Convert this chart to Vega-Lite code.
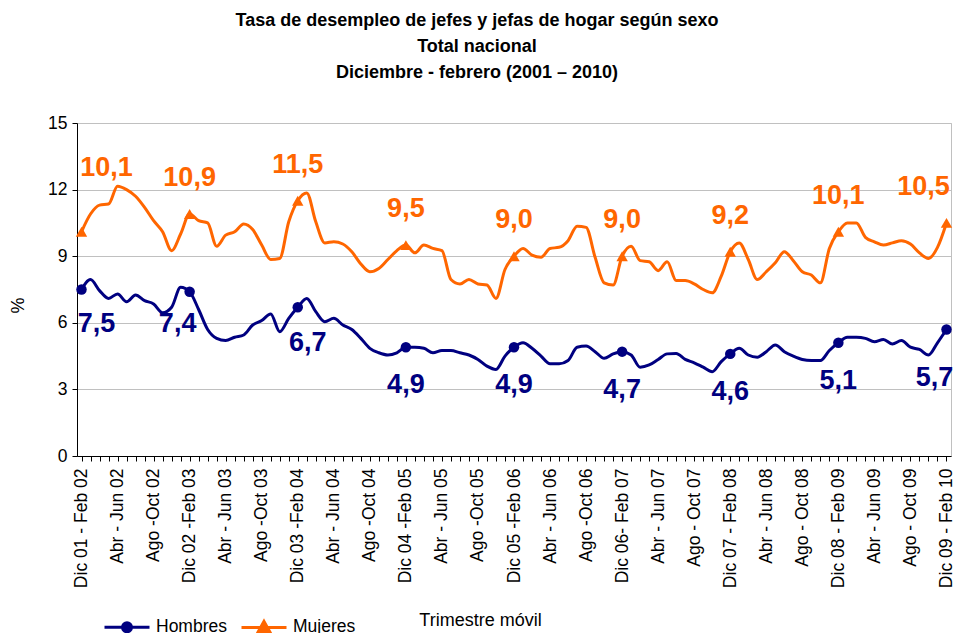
{
  "$schema": "https://vega.github.io/schema/vega-lite/v6.json",
  "width": 874,
  "height": 333,
  "autosize": {"type": "none"},
  "padding": {"left": 77, "top": 123, "right": 3, "bottom": 177},
  "background": "white",
  "config": {"font": "Liberation Sans", "view": {"stroke": "#C0C0C0"}},
  "title": {
    "text": ["Tasa de desempleo de jefes y jefas de hogar según sexo", "Total nacional", "Diciembre - febrero (2001 – 2010)"],
    "fontSize": 18, "fontWeight": "bold", "font": "Liberation Sans", "color": "black",
    "anchor": "middle", "frame": "group", "dx": -37, "offset": 14, "baseline": "bottom", "lineHeight": 26
  },
  "data": {"values": [
    {"periodo":"Dic 01 - Feb 02","Hombres":7.5,"Mujeres":10.1},
    {"periodo":"Ene - Mar 02","Hombres":7.95,"Mujeres":10.9},
    {"periodo":"Feb - Abr 02","Hombres":7.45,"Mujeres":11.3},
    {"periodo":"Mar - May 02","Hombres":7.1,"Mujeres":11.35},
    {"periodo":"Abr - Jun 02","Hombres":7.3,"Mujeres":12.15},
    {"periodo":"May - Jul 02","Hombres":6.95,"Mujeres":12.0},
    {"periodo":"Jun - Ago 02","Hombres":7.25,"Mujeres":11.7},
    {"periodo":"Jul - Sep 02","Hombres":7.0,"Mujeres":11.2},
    {"periodo":"Ago -Oct 02","Hombres":6.85,"Mujeres":10.6},
    {"periodo":"Sep - Nov 02","Hombres":6.45,"Mujeres":10.1},
    {"periodo":"Oct - Dic 02","Hombres":6.7,"Mujeres":9.25},
    {"periodo":"Nov 02 - Ene 03","Hombres":7.6,"Mujeres":10.0},
    {"periodo":"Dic 02 -Feb 03","Hombres":7.4,"Mujeres":10.9},
    {"periodo":"Ene - Mar 03","Hombres":6.6,"Mujeres":10.6},
    {"periodo":"Feb - Abr 03","Hombres":5.7,"Mujeres":10.5},
    {"periodo":"Mar - May 03","Hombres":5.3,"Mujeres":9.45},
    {"periodo":"Abr - Jun 03","Hombres":5.2,"Mujeres":9.95},
    {"periodo":"May - Jul 03","Hombres":5.35,"Mujeres":10.1},
    {"periodo":"Jun - Ago 03","Hombres":5.45,"Mujeres":10.45},
    {"periodo":"Jul - Sep 03","Hombres":5.9,"Mujeres":10.2},
    {"periodo":"Ago -Oct 03","Hombres":6.1,"Mujeres":9.5},
    {"periodo":"Sep - Nov 03","Hombres":6.4,"Mujeres":8.85},
    {"periodo":"Oct - Dic 03","Hombres":5.6,"Mujeres":8.9},
    {"periodo":"Nov 03 - Ene 04","Hombres":6.2,"Mujeres":10.55},
    {"periodo":"Dic 03 -Feb 04","Hombres":6.7,"Mujeres":11.5},
    {"periodo":"Ene - Mar 04","Hombres":7.1,"Mujeres":11.85},
    {"periodo":"Feb - Abr 04","Hombres":6.5,"Mujeres":10.55},
    {"periodo":"Mar - May 04","Hombres":6.05,"Mujeres":9.6},
    {"periodo":"Abr - Jun 04","Hombres":6.2,"Mujeres":9.65},
    {"periodo":"May - Jul 04","Hombres":5.9,"Mujeres":9.55},
    {"periodo":"Jun - Ago 04","Hombres":5.7,"Mujeres":9.2},
    {"periodo":"Jul - Sep 04","Hombres":5.3,"Mujeres":8.65},
    {"periodo":"Ago -Oct 04","Hombres":4.85,"Mujeres":8.3},
    {"periodo":"Sep - Nov 04","Hombres":4.65,"Mujeres":8.45},
    {"periodo":"Oct - Dic 04","Hombres":4.55,"Mujeres":8.85},
    {"periodo":"Nov 04 - Ene 05","Hombres":4.65,"Mujeres":9.25},
    {"periodo":"Dic 04 -Feb 05","Hombres":4.9,"Mujeres":9.5},
    {"periodo":"Ene - Mar 05","Hombres":4.9,"Mujeres":9.15},
    {"periodo":"Feb - Abr 05","Hombres":4.85,"Mujeres":9.5},
    {"periodo":"Mar - May 05","Hombres":4.65,"Mujeres":9.35},
    {"periodo":"Abr - Jun 05","Hombres":4.75,"Mujeres":9.25},
    {"periodo":"May - Jul 05","Hombres":4.75,"Mujeres":7.95},
    {"periodo":"Jun - Ago 05","Hombres":4.65,"Mujeres":7.75},
    {"periodo":"Jul - Sep 05","Hombres":4.55,"Mujeres":7.95},
    {"periodo":"Ago -Oct 05","Hombres":4.35,"Mujeres":7.75},
    {"periodo":"Sep - Nov 05","Hombres":4.05,"Mujeres":7.7},
    {"periodo":"Oct - Dic 05","Hombres":3.9,"Mujeres":7.1},
    {"periodo":"Nov 05 - Ene 06","Hombres":4.5,"Mujeres":8.4},
    {"periodo":"Dic 05 -Feb 06","Hombres":4.9,"Mujeres":9.0},
    {"periodo":"Ene - Mar 06","Hombres":5.1,"Mujeres":9.35},
    {"periodo":"Feb - Abr 06","Hombres":4.85,"Mujeres":9.05},
    {"periodo":"Mar - May 06","Hombres":4.5,"Mujeres":8.95},
    {"periodo":"Abr - Jun 06","Hombres":4.15,"Mujeres":9.35},
    {"periodo":"May - Jul 06","Hombres":4.15,"Mujeres":9.4},
    {"periodo":"Jun - Ago 06","Hombres":4.3,"Mujeres":9.7},
    {"periodo":"Jul - Sep 06","Hombres":4.9,"Mujeres":10.35},
    {"periodo":"Ago -Oct 06","Hombres":4.95,"Mujeres":10.3},
    {"periodo":"Sep - Nov 06","Hombres":4.7,"Mujeres":8.95},
    {"periodo":"Oct - Dic 06","Hombres":4.4,"Mujeres":7.8},
    {"periodo":"Nov 06 - Ene 07","Hombres":4.6,"Mujeres":7.7},
    {"periodo":"Dic  06- Feb 07","Hombres":4.7,"Mujeres":9.0},
    {"periodo":"Ene - Mar 07","Hombres":4.55,"Mujeres":9.45},
    {"periodo":"Feb - Abr 07","Hombres":4.0,"Mujeres":8.8},
    {"periodo":"Mar - May 07","Hombres":4.1,"Mujeres":8.75},
    {"periodo":"Abr - Jun 07","Hombres":4.35,"Mujeres":8.35},
    {"periodo":"May - Jul 07","Hombres":4.6,"Mujeres":8.75},
    {"periodo":"Jun - Ago 07","Hombres":4.62,"Mujeres":7.9},
    {"periodo":"Jul - Sep 07","Hombres":4.35,"Mujeres":7.9},
    {"periodo":"Ago - Oct 07","Hombres":4.2,"Mujeres":7.75},
    {"periodo":"Sep - Nov 07","Hombres":4.0,"Mujeres":7.5},
    {"periodo":"Oct - Dic 07","Hombres":3.8,"Mujeres":7.35},
    {"periodo":"Nov 07 - Ene 08","Hombres":4.25,"Mujeres":8.1},
    {"periodo":"Dic 07 - Feb 08","Hombres":4.6,"Mujeres":9.2},
    {"periodo":"Ene - Mar 08","Hombres":4.85,"Mujeres":9.6},
    {"periodo":"Feb - Abr 08","Hombres":4.55,"Mujeres":8.85},
    {"periodo":"Mar - May 08","Hombres":4.45,"Mujeres":7.95},
    {"periodo":"Abr - Jun 08","Hombres":4.7,"Mujeres":8.3},
    {"periodo":"May - Jul 08","Hombres":5.0,"Mujeres":8.7},
    {"periodo":"Jun - Ago 08","Hombres":4.7,"Mujeres":9.2},
    {"periodo":"Jul - Sep 08","Hombres":4.5,"Mujeres":8.8},
    {"periodo":"Ago - Oct 08","Hombres":4.35,"Mujeres":8.3},
    {"periodo":"Sep - Nov 08","Hombres":4.3,"Mujeres":8.15},
    {"periodo":"Oct - Dic 08","Hombres":4.3,"Mujeres":7.8},
    {"periodo":"Nov 08 - Ene 09","Hombres":4.75,"Mujeres":9.35},
    {"periodo":"Dic 08 - Feb 09","Hombres":5.1,"Mujeres":10.1},
    {"periodo":"Ene - Mar 09","Hombres":5.35,"Mujeres":10.5},
    {"periodo":"Feb - Abr 09","Hombres":5.35,"Mujeres":10.5},
    {"periodo":"Mar - May 09","Hombres":5.3,"Mujeres":9.85},
    {"periodo":"Abr - Jun 09","Hombres":5.15,"Mujeres":9.65},
    {"periodo":"May - Jul 09","Hombres":5.25,"Mujeres":9.5},
    {"periodo":"Jun - Ago 09","Hombres":5.05,"Mujeres":9.6},
    {"periodo":"Jul - Sep 09","Hombres":5.2,"Mujeres":9.7},
    {"periodo":"Ago - Oct 09","Hombres":4.9,"Mujeres":9.55},
    {"periodo":"Sep - Nov 09","Hombres":4.8,"Mujeres":9.15},
    {"periodo":"Oct - Dic 09","Hombres":4.55,"Mujeres":8.9},
    {"periodo":"Nov 09 - Ene 10","Hombres":5.1,"Mujeres":9.4},
    {"periodo":"Dic 09 - Feb 10","Hombres":5.7,"Mujeres":10.5}
  ]},
  "transform": [
    {"fold": ["Hombres", "Mujeres"], "as": ["sexo", "tasa"]},
    {"calculate": "replace(format(datum.tasa, '.1f'), '.', ',')", "as": "etiqueta"}
  ],
  "encoding": {
    "x": {
      "field": "periodo", "type": "ordinal", "sort": null,
      "scale": {"type": "point", "padding": 0.5},
      "axis": {
        "title": "Trimestre móvil", "labelAngle": 270,
        "labelExpr": "indexof(['Dic','Abr','Ago'], slice(datum.value, 0, 3)) >= 0 ? datum.value : ''",
        "labelOverlap": false, "labelFontSize": 17.5, "labelColor": "black", "labelFont": "Liberation Sans",
        "labelPadding": 7, "tickSize": 5, "tickColor": "black", "domainColor": "black", "grid": false,
        "titleFontSize": 18, "titleFontWeight": "normal", "titleColor": "black", "titleFont": "Liberation Sans",
        "titleX": 403, "titleY": 155, "titleAlign": "center", "titleBaseline": "top"
      }
    },
    "y": {
      "field": "tasa", "type": "quantitative",
      "scale": {"domain": [0, 15], "nice": false},
      "axis": {
        "values": [0, 3, 6, 9, 12, 15], "title": "%", "grid": true, "gridColor": "#C0C0C0",
        "labelFontSize": 17.5, "labelColor": "black", "labelFont": "Liberation Sans", "labelPadding": 5,
        "tickSize": 5, "tickColor": "black", "domainColor": "black",
        "titleFontSize": 18, "titleFontWeight": "normal", "titleColor": "black", "titleFont": "Liberation Sans",
        "titleX": -59, "titleY": 182, "titleAlign": "center", "titleBaseline": "middle", "titleAngle": 270
      }
    }
  },
  "layer": [
    {
      "mark": {"type": "line", "interpolate": "monotone", "strokeWidth": 3},
      "encoding": {
        "color": {
          "field": "sexo", "type": "nominal",
          "scale": {"domain": ["Hombres", "Mujeres"], "range": ["#000080", "#FF6600"]},
          "legend": {
            "orient": "none", "legendX": 26, "legendY": 480, "direction": "horizontal", "title": null,
            "labelFontSize": 17.5, "labelColor": "black", "labelFont": "Liberation Sans",
            "symbolSize": 2025, "symbolStrokeWidth": 3, "labelOffset": 5, "columnPadding": 8, "padding": 0,
            "encode": {
              "symbols": {
                "update": {
                  "shape": {"signal": "datum.value === 'Hombres' ? 'M-1,0L1,0M0.2,0A0.2,0.2,0,1,1,-0.2,0A0.2,0.2,0,1,1,0.2,0Z' : 'M-1,0L1,0M0,-0.27L0.25,0.18L-0.25,0.18Z'"},
                  "fill": {"signal": "datum.value === 'Hombres' ? '#000080' : '#FF6600'"},
                  "stroke": {"signal": "datum.value === 'Hombres' ? '#000080' : '#FF6600'"},
                  "fillOpacity": {"value": 1},
                  "opacity": {"value": 1},
                  "strokeWidth": {"value": 3}
                }
              }
            }
          }
        }
      }
    },
    {
      "transform": [{"filter": "datum.sexo === 'Hombres' && indexof(datum.periodo, 'Dic') === 0"}],
      "mark": {"type": "point", "shape": "circle", "filled": true, "opacity": 1, "size": 110, "color": "#000080"}
    },
    {
      "transform": [{"filter": "datum.sexo === 'Mujeres' && indexof(datum.periodo, 'Dic') === 0"}],
      "mark": {"type": "point", "shape": "triangle-up", "filled": true, "opacity": 1, "size": 130, "color": "#FF6600"}
    },
    {
      "transform": [{"filter": "datum.sexo === 'Mujeres' && indexof(['Dic 02 -Feb 03','Dic 03 -Feb 04','Dic 04 -Feb 05','Dic 05 -Feb 06','Dic  06- Feb 07','Dic 07 - Feb 08','Dic 08 - Feb 09'], datum.periodo) >= 0"}],
      "mark": {"type": "text", "fontSize": 27, "fontWeight": "bold", "color": "#FF6600", "baseline": "middle", "align": "center", "dy": -36},
      "encoding": {"text": {"field": "etiqueta"}}
    },
    {
      "transform": [{"filter": "datum.sexo === 'Mujeres' && datum.periodo === 'Dic 01 - Feb 02'"}],
      "mark": {"type": "text", "fontSize": 27, "fontWeight": "bold", "color": "#FF6600", "baseline": "middle", "align": "center", "dx": 25, "dy": -64},
      "encoding": {"text": {"field": "etiqueta"}}
    },
    {
      "transform": [{"filter": "datum.sexo === 'Mujeres' && datum.periodo === 'Dic 09 - Feb 10'"}],
      "mark": {"type": "text", "fontSize": 27, "fontWeight": "bold", "color": "#FF6600", "baseline": "middle", "align": "center", "dx": -23, "dy": -36},
      "encoding": {"text": {"field": "etiqueta"}}
    },
    {
      "transform": [{"filter": "datum.sexo === 'Hombres' && indexof(['Dic 04 -Feb 05','Dic 05 -Feb 06','Dic  06- Feb 07','Dic 07 - Feb 08','Dic 08 - Feb 09'], datum.periodo) >= 0"}],
      "mark": {"type": "text", "fontSize": 27, "fontWeight": "bold", "color": "#000080", "baseline": "middle", "align": "center", "dy": 38},
      "encoding": {"text": {"field": "etiqueta"}}
    },
    {
      "transform": [{"filter": "datum.sexo === 'Hombres' && datum.periodo === 'Dic 01 - Feb 02'"}],
      "mark": {"type": "text", "fontSize": 27, "fontWeight": "bold", "color": "#000080", "baseline": "middle", "align": "center", "dx": 15, "dy": 34},
      "encoding": {"text": {"field": "etiqueta"}}
    },
    {
      "transform": [{"filter": "datum.sexo === 'Hombres' && datum.periodo === 'Dic 02 -Feb 03'"}],
      "mark": {"type": "text", "fontSize": 27, "fontWeight": "bold", "color": "#000080", "baseline": "middle", "align": "center", "dx": -12, "dy": 32},
      "encoding": {"text": {"field": "etiqueta"}}
    },
    {
      "transform": [{"filter": "datum.sexo === 'Hombres' && datum.periodo === 'Dic 03 -Feb 04'"}],
      "mark": {"type": "text", "fontSize": 27, "fontWeight": "bold", "color": "#000080", "baseline": "middle", "align": "center", "dx": 10, "dy": 36},
      "encoding": {"text": {"field": "etiqueta"}}
    },
    {
      "transform": [{"filter": "datum.sexo === 'Hombres' && datum.periodo === 'Dic 09 - Feb 10'"}],
      "mark": {"type": "text", "fontSize": 27, "fontWeight": "bold", "color": "#000080", "baseline": "middle", "align": "center", "dx": -12, "dy": 49},
      "encoding": {"text": {"field": "etiqueta"}}
    }
  ]
}
